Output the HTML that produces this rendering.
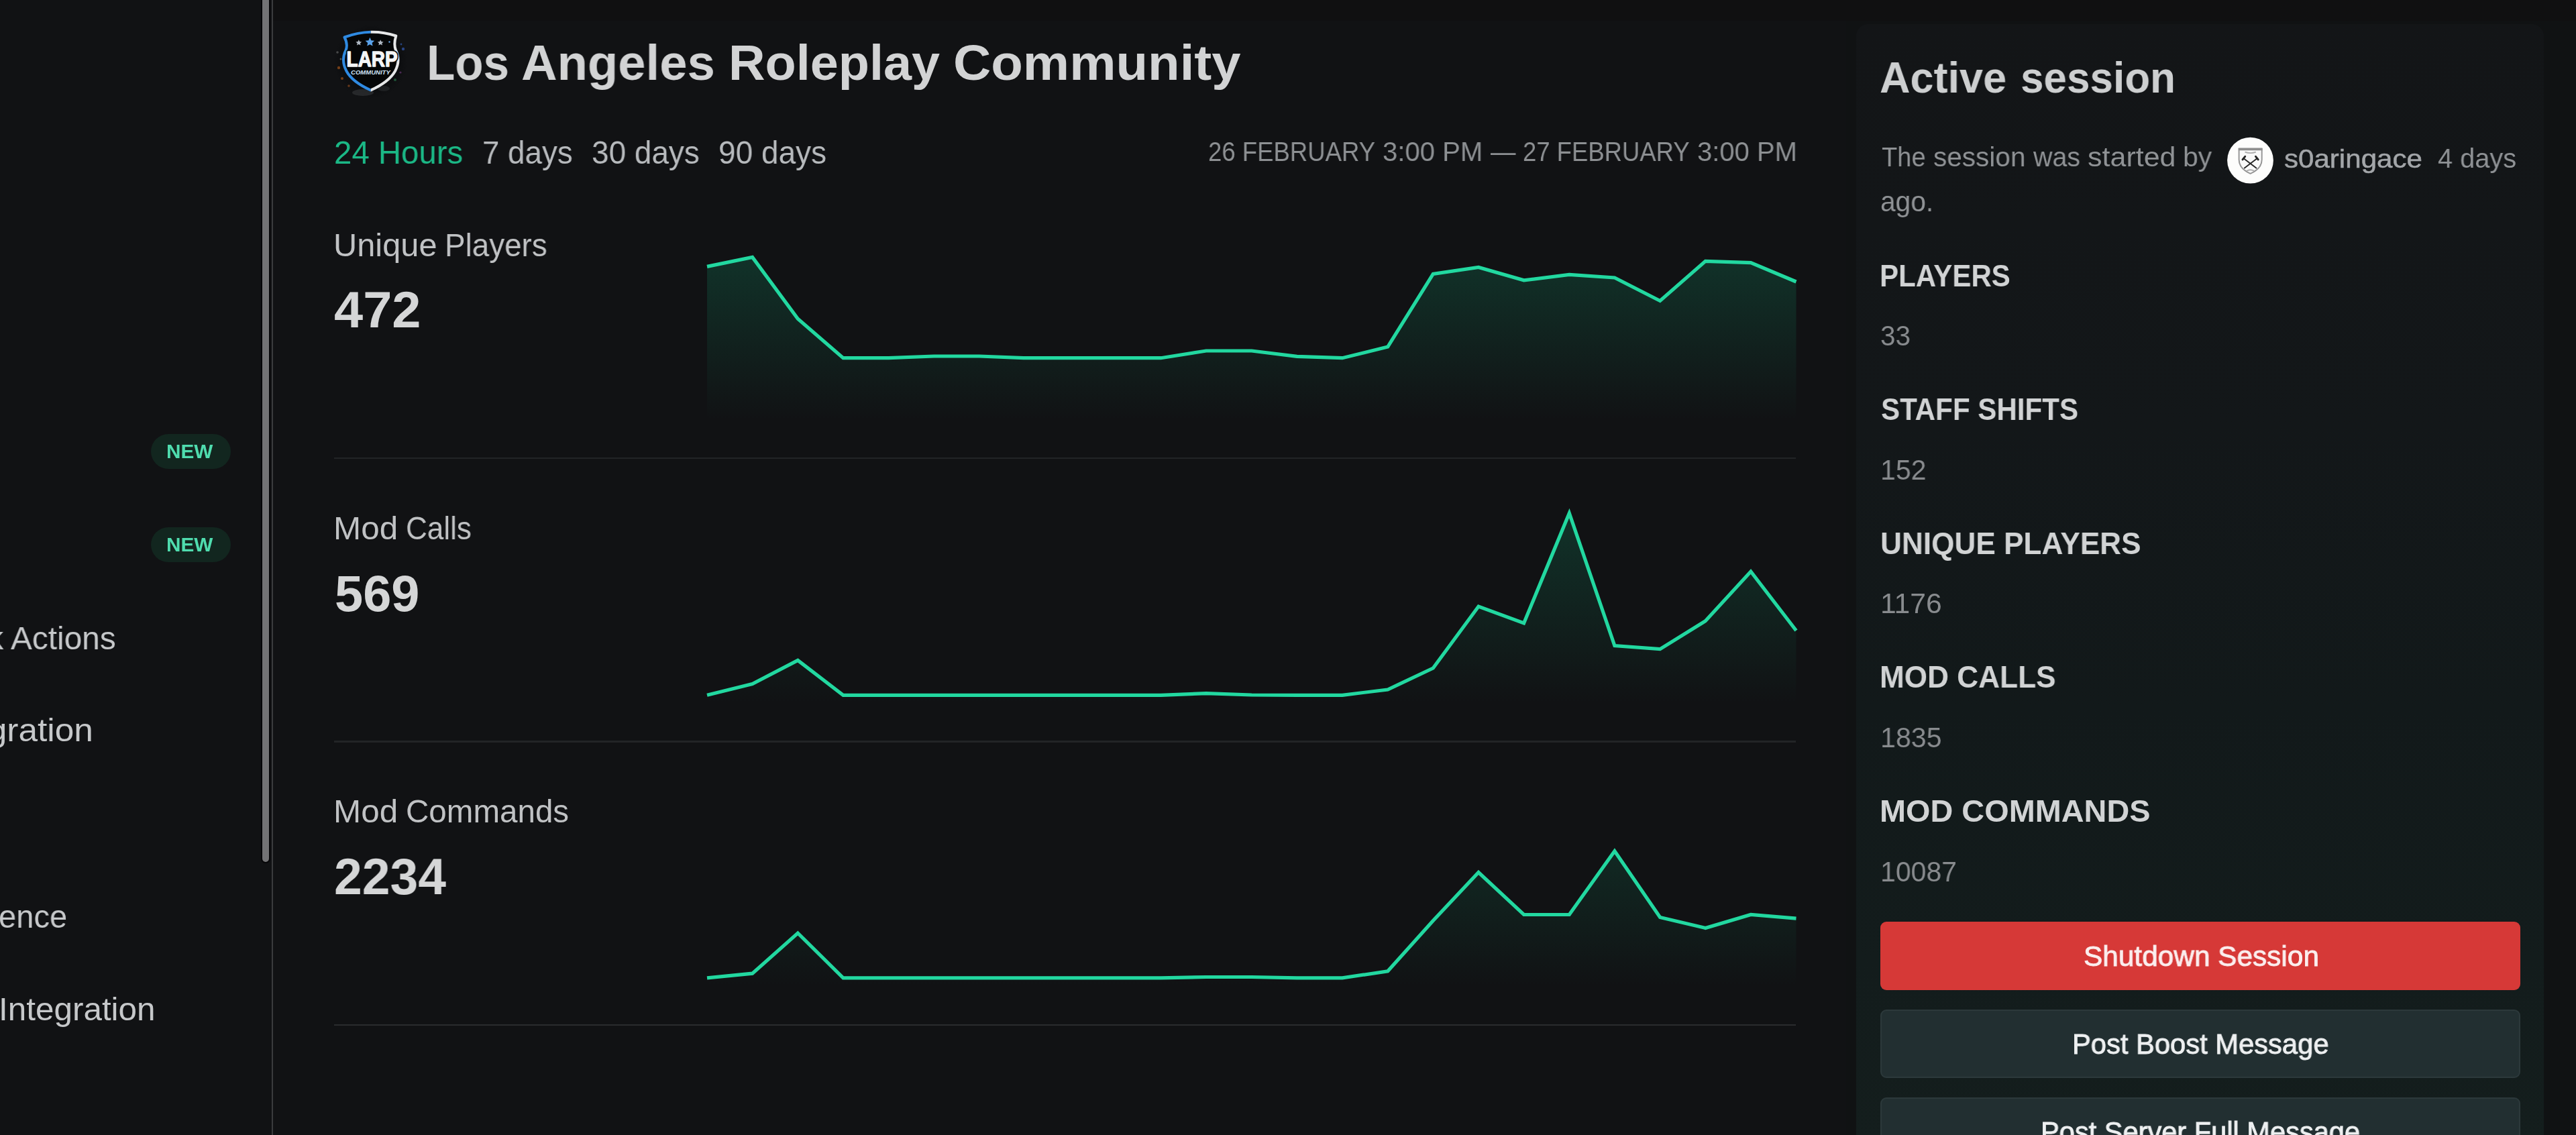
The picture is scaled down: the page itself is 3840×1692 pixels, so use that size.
<!DOCTYPE html>
<html><head><meta charset="utf-8"><title>Dashboard</title>
<style>
html,body{margin:0;padding:0;}
html{width:3840px;height:1692px;overflow:hidden;background:#111214;}
body{width:3840px;height:1692px;overflow:hidden;background:#111214;font-family:"Liberation Sans",sans-serif;position:relative;}
#root{position:absolute;left:0;top:0;width:3840px;height:1692px;overflow:hidden;background:#111214;}
.t{position:absolute;white-space:nowrap;line-height:1;will-change:transform;}
.abs{position:absolute;}
.charts{position:absolute;left:0;top:0;}
#side{left:0;top:0;width:404.5px;height:1692px;background:#111214;}
#thumb{left:391px;top:-10px;width:9.5px;height:1295px;background:#737375;box-shadow:0 0 0 2px #060608;border-radius:0 0 5px 5px;}
#sborder{left:404.7px;top:0;width:2.6px;height:1692px;background:#3a3b3d;}
.badge{left:224.5px;width:119.5px;height:52px;border-radius:26px;background:#12261f;}
.hr{left:498px;width:2179px;height:2.5px;background:#222426;}
#topband{left:407.3px;top:0;width:3433px;height:30.5px;background:#101011;}
#rightbg{left:2752px;top:0;width:1088px;height:1692px;background:#101213;}
#card{left:2767px;top:36px;width:1025px;height:1700px;border-radius:18px;background:linear-gradient(180deg,#131517 0%,#131719 35%,#12191a 60%,#131c1c 82%,#141e1d 100%);}
.btn{left:2803px;width:953.5px;height:102px;border-radius:9px;box-sizing:border-box;}
</style></head>
<body>
<div id="root">
<div class="abs" id="side"></div>
<div class="abs" id="thumb"></div>
<div class="abs" id="sborder"></div>
<div class="abs badge" style="top:647.3px"></div>
<div class="abs badge" style="top:786px"></div>
<div class="abs" id="rightbg"></div>
<div class="abs" id="topband"></div>
<div class="abs" id="card"></div>
<div class="abs hr" style="top:681.8px"></div>
<div class="abs hr" style="top:1104px"></div>
<div class="abs hr" style="top:1526.5px;background:#2a2c2e"></div>
<div class="abs btn" style="top:1374.3px;background:#d63937"></div>
<div class="abs btn" style="top:1504.5px;background:#222f31;border:2.5px solid #2c393b"></div>
<div class="abs btn" style="top:1635.5px;background:#222f31;border:2.5px solid #2c393b"></div>
<svg class="charts" width="3840" height="1692" viewBox="0 0 3840 1692">
<defs><linearGradient id="g1" gradientUnits="userSpaceOnUse" x1="0" y1="375" x2="0" y2="626"><stop offset="0" stop-color="#10b981" stop-opacity="0.2"/><stop offset="1" stop-color="#10b981" stop-opacity="0"/></linearGradient><linearGradient id="g2" gradientUnits="userSpaceOnUse" x1="0" y1="758" x2="0" y2="1048"><stop offset="0" stop-color="#10b981" stop-opacity="0.2"/><stop offset="1" stop-color="#10b981" stop-opacity="0"/></linearGradient><linearGradient id="g3" gradientUnits="userSpaceOnUse" x1="0" y1="1180" x2="0" y2="1470"><stop offset="0" stop-color="#10b981" stop-opacity="0.2"/><stop offset="1" stop-color="#10b981" stop-opacity="0"/></linearGradient></defs>
<polygon points="1054.0,397.4 1121.6,383.4 1189.3,475.2 1256.9,533.7 1324.6,533.7 1392.2,531.0 1459.9,531.0 1527.5,533.7 1595.2,533.7 1662.8,533.7 1730.5,533.7 1798.1,523.0 1865.8,523.0 1933.4,531.3 2001.0,533.7 2068.7,517.0 2136.3,408.4 2204.0,398.4 2271.6,417.8 2339.3,409.4 2406.9,414.0 2474.6,448.5 2542.2,389.4 2609.9,391.7 2677.5,420.0 2677.5,626 1054.0,626" fill="url(#g1)"/>
<polyline points="1054.0,397.4 1121.6,383.4 1189.3,475.2 1256.9,533.7 1324.6,533.7 1392.2,531.0 1459.9,531.0 1527.5,533.7 1595.2,533.7 1662.8,533.7 1730.5,533.7 1798.1,523.0 1865.8,523.0 1933.4,531.3 2001.0,533.7 2068.7,517.0 2136.3,408.4 2204.0,398.4 2271.6,417.8 2339.3,409.4 2406.9,414.0 2474.6,448.5 2542.2,389.4 2609.9,391.7 2677.5,420.0" fill="none" stroke="#22d8a0" stroke-width="5.2" stroke-linejoin="miter" stroke-linecap="butt"/>
<polygon points="1054.0,1036.3 1121.6,1019.5 1189.3,984.4 1256.9,1036.3 1324.6,1036.3 1392.2,1036.3 1459.9,1036.3 1527.5,1036.3 1595.2,1036.3 1662.8,1036.3 1730.5,1036.3 1798.1,1033.6 1865.8,1036.0 1933.4,1036.3 2001.0,1036.3 2068.7,1028.0 2136.3,996.0 2204.0,904.0 2271.6,929.0 2339.3,765.0 2406.9,962.6 2474.6,967.7 2542.2,925.8 2609.9,852.0 2677.5,940.0 2677.5,1048 1054.0,1048" fill="url(#g2)"/>
<polyline points="1054.0,1036.3 1121.6,1019.5 1189.3,984.4 1256.9,1036.3 1324.6,1036.3 1392.2,1036.3 1459.9,1036.3 1527.5,1036.3 1595.2,1036.3 1662.8,1036.3 1730.5,1036.3 1798.1,1033.6 1865.8,1036.0 1933.4,1036.3 2001.0,1036.3 2068.7,1028.0 2136.3,996.0 2204.0,904.0 2271.6,929.0 2339.3,765.0 2406.9,962.6 2474.6,967.7 2542.2,925.8 2609.9,852.0 2677.5,940.0" fill="none" stroke="#22d8a0" stroke-width="5.2" stroke-linejoin="miter" stroke-linecap="butt"/>
<polygon points="1054.0,1457.9 1121.6,1451.2 1189.3,1391.0 1256.9,1457.9 1324.6,1457.9 1392.2,1457.9 1459.9,1457.9 1527.5,1457.9 1595.2,1457.9 1662.8,1457.9 1730.5,1457.9 1798.1,1456.5 1865.8,1456.5 1933.4,1457.9 2001.0,1457.9 2068.7,1447.8 2136.3,1372.5 2204.0,1300.5 2271.6,1363.5 2339.3,1363.5 2406.9,1268.7 2474.6,1367.5 2542.2,1383.5 2609.9,1363.5 2677.5,1369.2 2677.5,1470 1054.0,1470" fill="url(#g3)"/>
<polyline points="1054.0,1457.9 1121.6,1451.2 1189.3,1391.0 1256.9,1457.9 1324.6,1457.9 1392.2,1457.9 1459.9,1457.9 1527.5,1457.9 1595.2,1457.9 1662.8,1457.9 1730.5,1457.9 1798.1,1456.5 1865.8,1456.5 1933.4,1457.9 2001.0,1457.9 2068.7,1447.8 2136.3,1372.5 2204.0,1300.5 2271.6,1363.5 2339.3,1363.5 2406.9,1268.7 2474.6,1367.5 2542.2,1383.5 2609.9,1363.5 2677.5,1369.2" fill="none" stroke="#22d8a0" stroke-width="5.2" stroke-linejoin="miter" stroke-linecap="butt"/>
</svg>
<svg class="abs" style="left:490px;top:30px" width="125" height="125" viewBox="490 30 125 125">
<defs>
<clipPath id="lh"><rect x="490" y="30" width="62.7" height="125"/></clipPath>
<clipPath id="rh"><rect x="552.7" y="30" width="70" height="125"/></clipPath>
<radialGradient id="lg" cx="0.5" cy="0.5" r="0.5"><stop offset="0" stop-color="#0a0b0d"/><stop offset="0.8" stop-color="#0d0e10"/><stop offset="1" stop-color="#111214"/></radialGradient>
</defs>
<circle cx="552.5" cy="92" r="55" fill="url(#lg)"/>
<g opacity="0.55">
<circle cx="505" cy="101" r="2.2" fill="#c8661e"/><circle cx="510" cy="117" r="2" fill="#c8661e"/><circle cx="520" cy="128" r="1.8" fill="#b05a20"/>
<circle cx="601" cy="73" r="2.2" fill="#3b6fe0"/><circle cx="598" cy="66" r="1.4" fill="#3b6fe0"/>
<circle cx="589" cy="119" r="2" fill="#2d8a55"/><circle cx="597" cy="108" r="1.6" fill="#7a3f8a"/>
<circle cx="503" cy="78" r="1.8" fill="#777"/><circle cx="508" cy="88" r="1.5" fill="#888"/>
<ellipse cx="541" cy="138" rx="16" ry="5" fill="#55585c" opacity="0.6"/><ellipse cx="572" cy="132" rx="9" ry="4" fill="#4a4d50" opacity="0.5"/>
</g>
<path id="sh" d="M513.5 55.5 Q552.7 41 590.3 53.5 Q586.5 66 590 75 Q597.5 90 589 106 Q580 122 552.7 134.5 Q525 122 516.5 106 Q508 90 515.5 75 Q519 66 513.5 55.5 Z" fill="#050607"/>
<path d="M513.5 55.5 Q552.7 41 590.3 53.5 Q586.5 66 590 75 Q597.5 90 589 106 Q580 122 552.7 134.5 Q525 122 516.5 106 Q508 90 515.5 75 Q519 66 513.5 55.5 Z" fill="none" stroke="#2f8ae2" stroke-width="4" stroke-linejoin="round" clip-path="url(#lh)"/>
<path d="M513.5 55.5 Q552.7 41 590.3 53.5 Q586.5 66 590 75 Q597.5 90 589 106 Q580 122 552.7 134.5 Q525 122 516.5 106 Q508 90 515.5 75 Q519 66 513.5 55.5 Z" fill="none" stroke="#e6e7e8" stroke-width="4" stroke-linejoin="round" clip-path="url(#rh)"/>
<g fill="#aeb7c2">
<path d="M534.8 59.2l1.3 2.9 3.1.3-2.3 2.1.7 3.1-2.8-1.6-2.8 1.6.7-3.1-2.3-2.1 3.1-.3z"/>
<path d="M567.2 59.2l1.3 2.9 3.1.3-2.3 2.1.7 3.1-2.8-1.6-2.8 1.6.7-3.1-2.3-2.1 3.1-.3z"/>
</g>
<path d="M551.4 55.8l2 4.4 4.8.5-3.6 3.2 1 4.7-4.2-2.4-4.2 2.4 1-4.7-3.6-3.2 4.8-.5z" fill="#5aa2ea"/>
<circle cx="580.5" cy="62.5" r="1.2" fill="#6aa8e8"/>
<text x="516.6" y="99.3" font-family="'Liberation Sans',sans-serif" font-weight="700" font-size="31" textLength="76" lengthAdjust="spacingAndGlyphs" fill="#050607" stroke="#050607" stroke-width="5" stroke-linejoin="round">LARP</text>
<text x="516.6" y="99.3" font-family="'Liberation Sans',sans-serif" font-weight="700" font-size="31" textLength="76" lengthAdjust="spacingAndGlyphs" fill="#f4f5f6" stroke="#f4f5f6" stroke-width="1.3" stroke-linejoin="round">LARP</text>
<text x="523" y="110.6" font-family="'Liberation Sans',sans-serif" font-weight="700" font-style="italic" font-size="9.6" textLength="58.8" lengthAdjust="spacingAndGlyphs" fill="#cfe3f6">COMMUNITY</text>
</svg>
<svg class="abs" style="left:3315px;top:199px" width="80" height="80" viewBox="3315 199 80 80">
<circle cx="3354.5" cy="239.1" r="34.4" fill="#fdfdfc"/>
<path d="M3337.6 222 H3371.7 V238 Q3371.7 251.5 3354.6 258.8 Q3337.6 251.5 3337.6 238 Z" fill="#f9f9f9" stroke="#949494" stroke-width="1.9"/>
<path d="M3336.8 220.6 H3372.5 V224.2 H3336.8 Z" fill="#8e8e8e"/>
<path d="M3346.5 226.6 Q3354.6 229.6 3362.8 226.6" fill="none" stroke="#adadad" stroke-width="1.8"/>
<g stroke="#262626" stroke-linecap="round" fill="none">
<path d="M3345 236.6 L3363.4 250.6" stroke-width="1.9"/><path d="M3364.2 236.6 L3345.8 250.6" stroke-width="1.9"/>
<path d="M3342.9 238 L3346.8 233.2" stroke-width="2.8"/><path d="M3366.3 238 L3362.4 233.2" stroke-width="2.8"/>
</g>
<path d="M3349 254.8 Q3354.6 251.6 3360.2 254.8" fill="none" stroke="#adadad" stroke-width="2"/>
</svg>
<span class="t" style="right:3667.6px;top:927.7px;font-size:48px;font-weight:400;color:#c6c8ca;transform:scaleX(0.9974);transform-origin:100% 0;">Quick Actions</span>
<span class="t" style="right:3701.6px;top:1065.4px;font-size:48px;font-weight:400;color:#c6c8ca;transform:scaleX(1.0710);transform-origin:100% 0;">Discord Integration</span>
<span class="t" style="right:3739.8px;top:1342.9px;font-size:48px;font-weight:400;color:#c6c8ca;transform:scaleX(0.9812);transform-origin:100% 0;">Audience</span>
<span class="t" style="right:3608.5px;top:1481.2px;font-size:48px;font-weight:400;color:#c6c8ca;transform:scaleX(1.0298);transform-origin:100% 0;">Roblox Integration</span>
<span class="t" style="left:248.0px;top:658.9px;font-size:29px;font-weight:700;color:#4fdcae;transform:scaleX(1.0255);transform-origin:0 0;">NEW</span>
<span class="t" style="left:248.0px;top:797.6px;font-size:29px;font-weight:700;color:#4fdcae;transform:scaleX(1.0255);transform-origin:0 0;">NEW</span>
<span class="t" style="left:636.4px;top:57.1px;font-size:74.5px;font-weight:700;color:#d2d3d4;transform:scaleX(0.9285);transform-origin:0 0;">Los</span>
<span class="t" style="left:776.5px;top:57.1px;font-size:74.5px;font-weight:700;color:#d2d3d4;transform:scaleX(0.9962);transform-origin:0 0;">Angeles</span>
<span class="t" style="left:1086.1px;top:57.1px;font-size:74.5px;font-weight:700;color:#d2d3d4;transform:scaleX(1.0144);transform-origin:0 0;">Roleplay</span>
<span class="t" style="left:1420.9px;top:57.1px;font-size:74.5px;font-weight:700;color:#d2d3d4;transform:scaleX(1.0459);transform-origin:0 0;">Community</span>
<span class="t" style="left:498.2px;top:203.5px;font-size:47.5px;font-weight:400;color:#1bb886;transform:scaleX(0.9969);transform-origin:0 0;">24 Hours</span>
<span class="t" style="left:718.8px;top:203.5px;font-size:47.5px;font-weight:400;color:#b7babd;transform:scaleX(0.9621);transform-origin:0 0;">7 days</span>
<span class="t" style="left:881.8px;top:203.5px;font-size:47.5px;font-weight:400;color:#b7babd;transform:scaleX(0.9671);transform-origin:0 0;">30 days</span>
<span class="t" style="left:1071.1px;top:203.5px;font-size:47.5px;font-weight:400;color:#b7babd;transform:scaleX(0.9687);transform-origin:0 0;">90 days</span>
<span class="t" style="left:1800.7px;top:205.7px;font-size:40.5px;font-weight:400;color:#8d9093;transform:scaleX(0.9023);transform-origin:0 0;">26 FEBRUARY</span>
<span class="t" style="left:2061.3px;top:205.7px;font-size:40.5px;font-weight:400;color:#8d9093;transform:scaleX(0.9899);transform-origin:0 0;">3:00 PM</span>
<span class="t" style="left:2221.6px;top:205.7px;font-size:40.5px;font-weight:400;color:#8d9093;transform:scaleX(0.9220);transform-origin:0 0;">—</span>
<span class="t" style="left:2269.7px;top:205.7px;font-size:40.5px;font-weight:400;color:#8d9093;transform:scaleX(0.9008);transform-origin:0 0;">27 FEBRUARY</span>
<span class="t" style="left:2529.5px;top:205.7px;font-size:40.5px;font-weight:400;color:#8d9093;transform:scaleX(0.9878);transform-origin:0 0;">3:00 PM</span>
<span class="t" style="left:497.0px;top:341.8px;font-size:47.5px;font-weight:400;color:#c0c2c4;transform:scaleX(1.0266);transform-origin:0 0;">Unique</span>
<span class="t" style="left:662.9px;top:341.8px;font-size:47.5px;font-weight:400;color:#c0c2c4;transform:scaleX(0.9635);transform-origin:0 0;">Players</span>
<span class="t" style="left:497.6px;top:425.4px;font-size:75.5px;font-weight:700;color:#d5d6d7;transform:scaleX(1.0280);transform-origin:0 0;">472</span>
<span class="t" style="left:496.9px;top:764.0px;font-size:47.5px;font-weight:400;color:#c0c2c4;transform:scaleX(1.0404);transform-origin:0 0;">Mod</span>
<span class="t" style="left:605.3px;top:764.0px;font-size:47.5px;font-weight:400;color:#c0c2c4;transform:scaleX(0.9278);transform-origin:0 0;">Calls</span>
<span class="t" style="left:498.8px;top:847.6px;font-size:75.5px;font-weight:700;color:#d5d6d7;transform:scaleX(1.0043);transform-origin:0 0;">569</span>
<span class="t" style="left:496.9px;top:1186.2px;font-size:47.5px;font-weight:400;color:#c0c2c4;transform:scaleX(1.0404);transform-origin:0 0;">Mod</span>
<span class="t" style="left:605.2px;top:1186.2px;font-size:47.5px;font-weight:400;color:#c0c2c4;transform:scaleX(1.0012);transform-origin:0 0;">Commands</span>
<span class="t" style="left:498.0px;top:1269.8px;font-size:75.5px;font-weight:700;color:#d5d6d7;transform:scaleX(0.9942);transform-origin:0 0;">2234</span>
<span class="t" style="left:2802.2px;top:84.4px;font-size:64.5px;font-weight:700;color:#cdcfd0;transform:scaleX(0.9768);transform-origin:0 0;">Active</span>
<span class="t" style="left:3012.2px;top:84.4px;font-size:64.5px;font-weight:700;color:#cdcfd0;transform:scaleX(0.9616);transform-origin:0 0;">session</span>
<span class="t" style="left:2805.2px;top:212.8px;font-size:41.5px;font-weight:400;color:#8f9295;transform:scaleX(0.9172);transform-origin:0 0;">The</span>
<span class="t" style="left:2882.4px;top:212.8px;font-size:41.5px;font-weight:400;color:#8f9295;transform:scaleX(0.9765);transform-origin:0 0;">session</span>
<span class="t" style="left:3031.1px;top:212.8px;font-size:41.5px;font-weight:400;color:#8f9295;transform:scaleX(0.9494);transform-origin:0 0;">was</span>
<span class="t" style="left:3111.8px;top:212.8px;font-size:41.5px;font-weight:400;color:#8f9295;transform:scaleX(1.0364);transform-origin:0 0;">started</span>
<span class="t" style="left:3253.9px;top:212.8px;font-size:41.5px;font-weight:400;color:#8f9295;transform:scaleX(0.9862);transform-origin:0 0;">by</span>
<span class="t" style="left:3404.5px;top:216.8px;font-size:39.5px;font-weight:400;color:#a3a6a9;transform:scaleX(1.0655);transform-origin:0 0;-webkit-text-stroke:0.5px #a3a6a9;">s0aringace</span>
<span class="t" style="left:3634.3px;top:215.7px;font-size:40.5px;font-weight:400;color:#8f9295;transform:scaleX(0.9824);transform-origin:0 0;">4 days</span>
<span class="t" style="left:2802.7px;top:279.8px;font-size:42px;font-weight:400;color:#8f9295;transform:scaleX(0.9692);transform-origin:0 0;">ago.</span>
<span class="t" style="left:2802.3px;top:387.9px;font-size:46px;font-weight:700;color:#d1d3d4;transform:scaleX(0.9143);transform-origin:0 0;">PLAYERS</span>
<span class="t" style="left:2803.1px;top:480.0px;font-size:42.5px;font-weight:400;color:#888b8e;transform:scaleX(0.9499);transform-origin:0 0;">33</span>
<span class="t" style="left:2804.1px;top:587.3px;font-size:46px;font-weight:700;color:#d1d3d4;transform:scaleX(0.9157);transform-origin:0 0;">STAFF SHIFTS</span>
<span class="t" style="left:2803.1px;top:679.7px;font-size:42.5px;font-weight:400;color:#888b8e;transform:scaleX(0.9657);transform-origin:0 0;">152</span>
<span class="t" style="left:2803.1px;top:786.7px;font-size:46px;font-weight:700;color:#d1d3d4;transform:scaleX(0.9600);transform-origin:0 0;">UNIQUE PLAYERS</span>
<span class="t" style="left:2803.0px;top:879.4px;font-size:42.5px;font-weight:400;color:#888b8e;transform:scaleX(1.0051);transform-origin:0 0;">1176</span>
<span class="t" style="left:2802.1px;top:986.1px;font-size:46px;font-weight:700;color:#d1d3d4;transform:scaleX(0.9601);transform-origin:0 0;">MOD CALLS</span>
<span class="t" style="left:2803.1px;top:1079.1px;font-size:42.5px;font-weight:400;color:#888b8e;transform:scaleX(0.9676);transform-origin:0 0;">1835</span>
<span class="t" style="left:2801.9px;top:1185.5px;font-size:46px;font-weight:700;color:#d1d3d4;transform:scaleX(1.0187);transform-origin:0 0;">MOD COMMANDS</span>
<span class="t" style="left:2803.1px;top:1278.8px;font-size:42.5px;font-weight:400;color:#888b8e;transform:scaleX(0.9644);transform-origin:0 0;">10087</span>
<span class="t" style="left:3105.5px;top:1404.6px;font-size:42.5px;font-weight:400;color:#fbeeee;transform:scaleX(0.9968);transform-origin:0 0;-webkit-text-stroke:0.9px #fbeeee;">Shutdown Session</span>
<span class="t" style="left:3089.1px;top:1535.7px;font-size:42.5px;font-weight:400;color:#eef0f1;transform:scaleX(0.9814);transform-origin:0 0;-webkit-text-stroke:0.9px #eef0f1;">Post Boost Message</span>
<span class="t" style="left:3041.6px;top:1666.8px;font-size:42.5px;font-weight:400;color:#eef0f1;transform:scaleX(0.9783);transform-origin:0 0;-webkit-text-stroke:0.9px #eef0f1;">Post Server Full Message</span>
</div>
</body></html>
